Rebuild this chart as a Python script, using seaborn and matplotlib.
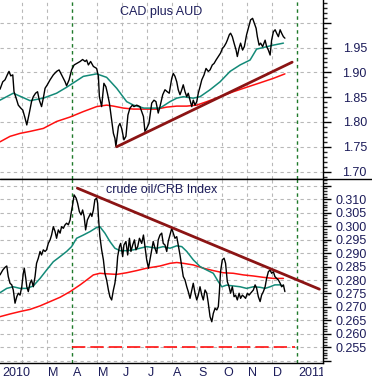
import matplotlib
matplotlib.use("Agg")
import matplotlib.pyplot as plt
import seaborn as sns
from matplotlib.lines import Line2D
from matplotlib.transforms import Bbox, TransformedBbox, blended_transform_factory

# x is measured in months, 0 = 1 Jan 2010

# --- CAD plus AUD (top panel) ---
cad_x = [0.12, 0.23, 0.32, 0.41, 0.48, 0.55, 0.63, 0.68, 0.79, 0.85,
         0.95, 1.03, 1.12, 1.19, 1.29, 1.38, 1.45, 1.54, 1.62, 1.69,
         1.78, 1.85, 1.92, 2.01, 2.12, 2.25, 2.38, 2.48, 2.58, 2.72,
         2.78, 2.88, 2.98, 3.08, 3.18, 3.32, 3.42, 3.52, 3.58, 3.65,
         3.74, 3.85, 3.98, 4.05, 4.09, 4.18, 4.27, 4.35, 4.41, 4.49,
         4.58, 4.65, 4.71, 4.75, 4.85, 4.91, 4.98, 5.07, 5.15, 5.23,
         5.31, 5.41, 5.47, 5.58, 5.71, 5.85, 5.91, 5.98, 6.07, 6.18,
         6.27, 6.35, 6.44, 6.51, 6.62, 6.71, 6.80, 6.88, 6.98, 7.04,
         7.11, 7.18, 7.24, 7.31, 7.38, 7.44, 7.51, 7.58, 7.64, 7.71,
         7.78, 7.84, 7.91, 7.98, 8.04, 8.11, 8.18, 8.27, 8.35, 8.44,
         8.51, 8.60, 8.67, 8.75, 8.84, 8.93, 9.01, 9.07, 9.15, 9.20,
         9.28, 9.33, 9.40, 9.47, 9.55, 9.60, 9.67, 9.73, 9.81, 9.88,
         9.97, 10.04, 10.13, 10.21, 10.28, 10.35, 10.40, 10.47, 10.53, 10.61,
         10.71, 10.77, 10.84, 10.91, 10.97, 11.04, 11.11, 11.17, 11.24, 11.31,
         11.37, 11.44, 11.50]
cad_y = [1.866, 1.881, 1.885, 1.895, 1.902, 1.893, 1.895, 1.861, 1.844, 1.834,
         1.828, 1.824, 1.808, 1.794, 1.818, 1.841, 1.851, 1.858, 1.861, 1.844,
         1.831, 1.848, 1.868, 1.875, 1.885, 1.895, 1.902, 1.905, 1.895, 1.881,
         1.873, 1.885, 1.905, 1.915, 1.918, 1.922, 1.926, 1.922, 1.925, 1.915,
         1.922, 1.912, 1.908, 1.892, 1.851, 1.831, 1.878, 1.871, 1.858, 1.838,
         1.804, 1.777, 1.767, 1.751, 1.791, 1.797, 1.787, 1.764, 1.771, 1.814,
         1.828, 1.834, 1.831, 1.834, 1.831, 1.811, 1.781, 1.787, 1.797, 1.838,
         1.844, 1.841, 1.818, 1.831, 1.855, 1.865, 1.861, 1.858, 1.888, 1.898,
         1.892, 1.881, 1.865, 1.855, 1.865, 1.875, 1.861, 1.851, 1.858, 1.844,
         1.831, 1.844, 1.834, 1.841, 1.858, 1.871, 1.885, 1.895, 1.908, 1.902,
         1.905, 1.915, 1.918, 1.925, 1.932, 1.939, 1.949, 1.952, 1.959, 1.965,
         1.976, 1.979, 1.972, 1.959, 1.945, 1.932, 1.949, 1.959, 1.945, 1.952,
         1.976, 1.989, 2.006, 2.009, 1.999, 1.989, 1.972, 1.955, 1.959, 1.952,
         1.965, 1.952, 1.945, 1.935, 1.965, 1.982, 1.986, 1.979, 1.972, 1.986,
         1.979, 1.972, 1.969]

cad_ma50_x = [0.12, 0.65, 1.32, 1.85, 2.38, 2.78, 3.45, 3.98, 4.38, 4.78,
              5.18, 5.45, 5.87, 6.51, 6.91, 7.18, 7.44, 7.84, 8.11, 8.51,
              8.91, 9.31, 9.71, 10.11, 10.37, 10.71, 11.04, 11.44]
cad_ma50_y = [1.844, 1.858, 1.843, 1.848, 1.858, 1.870, 1.892, 1.897, 1.890, 1.868,
              1.841, 1.834, 1.828, 1.828, 1.841, 1.848, 1.851, 1.848, 1.851, 1.865,
              1.881, 1.902, 1.915, 1.925, 1.947, 1.951, 1.955, 1.959]

cad_ma200_x = [0.12, 0.52, 0.92, 1.32, 1.85, 2.38, 2.92, 3.45, 3.98, 4.38,
               4.65, 5.05, 5.45, 5.85, 6.38, 6.78, 7.18, 7.58, 7.98, 8.38,
               8.91, 9.44, 9.97, 10.51, 11.04, 11.50]
cad_ma200_y = [1.760, 1.771, 1.777, 1.781, 1.787, 1.801, 1.810, 1.821, 1.831, 1.834,
               1.832, 1.828, 1.826, 1.826, 1.826, 1.830, 1.832, 1.832, 1.834, 1.841,
               1.851, 1.861, 1.870, 1.879, 1.888, 1.897]

cad_trend_x = [4.78, 11.79]
cad_trend_y = [1.750, 1.9206]

# --- crude oil / CRB Index (bottom panel) ---
oil_x = [0.12, 0.23, 0.32, 0.39, 0.45, 0.52, 0.59, 0.65, 0.72, 0.79,
         0.85, 0.92, 0.99, 1.05, 1.09, 1.15, 1.19, 1.25, 1.32, 1.38,
         1.45, 1.52, 1.58, 1.65, 1.72, 1.78, 1.85, 1.92, 1.98, 2.05,
         2.12, 2.18, 2.25, 2.32, 2.38, 2.45, 2.52, 2.58, 2.65, 2.72,
         2.78, 2.85, 2.92, 2.96, 3.01, 3.08, 3.16, 3.22, 3.29, 3.36,
         3.42, 3.48, 3.54, 3.61, 3.68, 3.74, 3.79, 3.85, 3.91, 3.98,
         4.02, 4.06, 4.11, 4.18, 4.25, 4.31, 4.38, 4.45, 4.51, 4.58,
         4.65, 4.71, 4.78, 4.82, 4.89, 4.94, 5.02, 5.07, 5.15, 5.22,
         5.29, 5.35, 5.42, 5.49, 5.55, 5.62, 5.69, 5.78, 5.85, 5.91,
         5.98, 6.05, 6.11, 6.18, 6.24, 6.31, 6.38, 6.44, 6.51, 6.58,
         6.64, 6.71, 6.78, 6.84, 6.91, 6.98, 7.04, 7.11, 7.18, 7.24,
         7.31, 7.38, 7.44, 7.51, 7.58, 7.64, 7.71, 7.78, 7.84, 7.91,
         7.98, 8.04, 8.11, 8.18, 8.24, 8.31, 8.38, 8.44, 8.51, 8.58,
         8.64, 8.71, 8.78, 8.84, 8.88, 8.93, 9.00, 9.07, 9.13, 9.20,
         9.27, 9.33, 9.40, 9.47, 9.53, 9.60, 9.67, 9.73, 9.80, 9.87,
         9.93, 10.00, 10.07, 10.13, 10.24, 10.31, 10.37, 10.44, 10.51, 10.57,
         10.64, 10.71, 10.77, 10.84, 10.91, 10.97, 11.04, 11.10, 11.17, 11.24,
         11.31, 11.37, 11.44, 11.50]
oil_y = [0.2819, 0.2837, 0.2847, 0.2852, 0.2813, 0.2788, 0.2782, 0.2763, 0.2714, 0.2738,
         0.2751, 0.2744, 0.2775, 0.2825, 0.2844, 0.2806, 0.2775, 0.2757, 0.2788, 0.2800,
         0.2775, 0.2813, 0.2862, 0.2881, 0.2906, 0.2893, 0.2912, 0.2906, 0.2912, 0.2936,
         0.2949, 0.2967, 0.2998, 0.2980, 0.2955, 0.2986, 0.2974, 0.2998, 0.2992, 0.3005,
         0.3011, 0.3005, 0.3023, 0.3048, 0.3073, 0.3116, 0.3104, 0.3085, 0.3054, 0.3042,
         0.3060, 0.3036, 0.2986, 0.3023, 0.3036, 0.3048, 0.3036, 0.3060, 0.3098, 0.3104,
         0.3085, 0.3023, 0.2961, 0.2912, 0.2875, 0.2825, 0.2800, 0.2763, 0.2738, 0.2726,
         0.2763, 0.2788, 0.2837, 0.2887, 0.2924, 0.2936, 0.2887, 0.2930, 0.2943, 0.2893,
         0.2955, 0.2906, 0.2930, 0.2949, 0.2912, 0.2924, 0.2955, 0.2936, 0.2967, 0.2924,
         0.2875, 0.2844, 0.2875, 0.2912, 0.2943, 0.2918, 0.2899, 0.2949, 0.2967, 0.2974,
         0.2936, 0.2930, 0.2906, 0.2943, 0.2967, 0.2992, 0.2974, 0.2955, 0.2961, 0.2930,
         0.2893, 0.2850, 0.2813, 0.2800, 0.2775, 0.2757, 0.2732, 0.2763, 0.2788, 0.2751,
         0.2726, 0.2744, 0.2775, 0.2744, 0.2726, 0.2763, 0.2751, 0.2714, 0.2664, 0.2645,
         0.2676, 0.2695, 0.2689, 0.2701, 0.2751, 0.2831, 0.2875, 0.2881, 0.2862, 0.2794,
         0.2775, 0.2751, 0.2775, 0.2738, 0.2744, 0.2726, 0.2751, 0.2732, 0.2744, 0.2738,
         0.2732, 0.2751, 0.2744, 0.2751, 0.2763, 0.2782, 0.2770, 0.2738, 0.2720, 0.2744,
         0.2757, 0.2775, 0.2806, 0.2831, 0.2837, 0.2825, 0.2831, 0.2813, 0.2806, 0.2800,
         0.2788, 0.2775, 0.2782, 0.2757]

oil_ma50_x = [0.12, 0.39, 0.65, 0.92, 1.19, 1.45, 1.72, 1.98, 2.25, 2.52,
              2.78, 2.98, 3.18, 3.45, 3.72, 3.98, 4.11, 4.31, 4.51, 4.71,
              4.91, 5.18, 5.45, 5.71, 5.98, 6.38, 6.64, 6.91, 7.18, 7.38,
              7.58, 7.84, 8.11, 8.38, 8.64, 8.84, 8.98, 9.17, 9.44, 9.71,
              9.97, 10.24, 10.51, 10.71, 10.91, 11.10, 11.31, 11.44]
oil_ma50_y = [0.2753, 0.2769, 0.2775, 0.2769, 0.2769, 0.2778, 0.2806, 0.2837, 0.2868, 0.2887,
              0.2906, 0.2924, 0.2955, 0.2967, 0.2980, 0.2995, 0.2998, 0.2974, 0.2943, 0.2918,
              0.2909, 0.2909, 0.2912, 0.2918, 0.2924, 0.2918, 0.2924, 0.2918, 0.2927, 0.2924,
              0.2906, 0.2875, 0.2850, 0.2837, 0.2825, 0.2794, 0.2775, 0.2781, 0.2778, 0.2775,
              0.2769, 0.2775, 0.2773, 0.2769, 0.2775, 0.2782, 0.2782, 0.2778]

oil_ma200_x = [0.12, 0.52, 0.92, 1.32, 1.72, 2.12, 2.52, 2.92, 3.32, 3.58,
               3.85, 4.11, 4.38, 4.78, 5.18, 5.58, 5.98, 6.51, 6.91, 7.18,
               7.44, 7.84, 8.24, 8.64, 9.04, 9.44, 9.84, 10.24, 10.64, 11.04,
               11.44]
oil_ma200_y = [0.2664, 0.2674, 0.2683, 0.2691, 0.2704, 0.2720, 0.2736, 0.2757, 0.2782, 0.2800,
               0.2819, 0.2825, 0.2823, 0.2821, 0.2827, 0.2835, 0.2844, 0.2852, 0.2862, 0.2865,
               0.2862, 0.2856, 0.2844, 0.2835, 0.2827, 0.2825, 0.2819, 0.2815, 0.2810, 0.2806,
               0.2806]

oil_trend_x = [3.21, 12.88]
oil_trend_y = [0.3141, 0.2766]

oil_support_x = [3.0, 11.9]
oil_support_y = [0.255, 0.255]

month_pos = [0, 2, 3, 4, 5, 6, 7, 8, 9, 10, 11, 12]
month_labels = ['2010', 'M', 'A', 'M', 'J', 'J', 'A', 'S', 'O', 'N', 'D', '2011']

cad_ticks = [1.70, 1.75, 1.80, 1.85, 1.90, 1.95, 2.00]
cad_ticklabels = ['1.70', '1.75', '1.80', '1.85', '1.90', '1.95', '']
oil_ticks = [0.250, 0.255, 0.260, 0.265, 0.270, 0.275, 0.280, 0.285,
             0.290, 0.295, 0.300, 0.305, 0.310, 0.315]
oil_ticklabels = ['', '0.255', '0.260', '0.265', '0.270', '0.275', '0.280', '0.285',
                  '0.290', '0.295', '0.300', '0.305', '0.310', '']

# --- VISUALIZATION BLOCK ---
sns.set_style("white")
plt.rcParams['font.family'] = ['Liberation Sans', 'DejaVu Sans']

W, H = 372, 381
fig = plt.figure(figsize=(W / 100, H / 100), dpi=100)
ax1 = fig.add_axes([0, (H - 179) / H, 322.7 / W, 179 / H])
ax2 = fig.add_axes([0, (H - 363) / H, 322.7 / W, 184 / H])

navy = '#1c1c5a'
grid_kw = dict(color='#b8b8b8', lw=0.8, linestyle=(0, (3, 3)), zorder=0)
green_kw = dict(color='#1f7a2a', lw=1.0, linestyle=(0, (2.5, 2.5)), zorder=1)
line_kw = dict(estimator=None, sort=False, legend=False)

for ax, ticks, labels, minor in [(ax1, cad_ticks, cad_ticklabels, 0.01),
                                 (ax2, oil_ticks, oil_ticklabels, 0.001)]:
    ax.set_xlim(0.12, 13.01)
    for m in range(1, 13):
        if m in (3, 12):
            ax.axvline(m, **green_kw)
        else:
            ax.axvline(m, **grid_kw)
    for t in ticks:
        ax.axhline(t, **grid_kw)
    ax.yaxis.tick_right()
    ax.set_yticks(ticks, labels)
    ax.yaxis.set_minor_locator(matplotlib.ticker.MultipleLocator(minor))
    ax.tick_params(axis='y', which='major', length=5.8, width=1, direction='out',
                   pad=26, labelsize=9, colors='black')
    ax.tick_params(axis='y', which='minor', length=2.9, width=1, direction='out')
    ax.tick_params(axis='y', labelcolor=navy)
    plt.setp(ax.get_yticklabels(), ha='right')
    for side in ['left', 'top']:
        ax.spines[side].set_visible(False)
    for side in ['right', 'bottom']:
        ax.spines[side].set_color('black')
        ax.spines[side].set_linewidth(1)
    ax.set_xlabel('')
    ax.set_ylabel('')

ax1.set_ylim(1.685, 2.046)
ax2.set_ylim(0.2492, 0.3175)

# top panel
sns.lineplot(x=cad_ma200_x, y=cad_ma200_y, ax=ax1, color='#ff1010', lw=1.1, **line_kw)
sns.lineplot(x=cad_ma50_x, y=cad_ma50_y, ax=ax1, color='#138a78', lw=1.1, **line_kw)
sns.lineplot(x=cad_x, y=cad_y, ax=ax1, color='black', lw=1.0, **line_kw)
sns.lineplot(x=cad_trend_x, y=cad_trend_y, ax=ax1, color='#8b1414', lw=2.0, **line_kw)
ax1.set_xticks([])
ax1.text(0.5, 0.933, 'CAD plus AUD', transform=ax1.transAxes, ha='center',
         va='center', fontsize=9, color=navy)

# bottom panel
sns.lineplot(x=oil_support_x, y=oil_support_y, ax=ax2, color='#ff1010', lw=1.2,
             linestyle=(0, (8, 3)), **line_kw)
sns.lineplot(x=oil_ma200_x, y=oil_ma200_y, ax=ax2, color='#ff1010', lw=1.1, **line_kw)
sns.lineplot(x=oil_ma50_x, y=oil_ma50_y, ax=ax2, color='#138a78', lw=1.1, **line_kw)
sns.lineplot(x=oil_x, y=oil_y, ax=ax2, color='black', lw=1.0, **line_kw)
sns.lineplot(x=oil_trend_x, y=oil_trend_y, ax=ax2, color='#8b1414', lw=2.0, **line_kw)
ax2.text(0.5, 0.94, 'crude oil/CRB Index', transform=ax2.transAxes, ha='center',
         va='center', fontsize=9, color=navy)

ax2.set_xticks(range(1, 13))
ax2.tick_params(axis='x', which='major', length=13, width=1, direction='out',
                labelbottom=False, colors='black')

trans = blended_transform_factory(ax2.transData, ax2.transAxes)
clip = TransformedBbox(Bbox([[0, -1], [1, 1]]), ax2.transAxes)
for pos, lab in zip(month_pos, month_labels):
    off = 0.2 if pos == 0 else 0.03
    t = ax2.text(pos + off, -0.055, lab, transform=trans, ha='left', va='center',
                 fontsize=9, color=navy, clip_on=True)
    t.set_clip_box(clip)

# separator between the panels across the full width
fig.add_artist(Line2D([0, 1], [(H - 179) / H] * 2, transform=fig.transFigure,
                      color='black', lw=1))

fig.savefig('out.png', dpi=100)
